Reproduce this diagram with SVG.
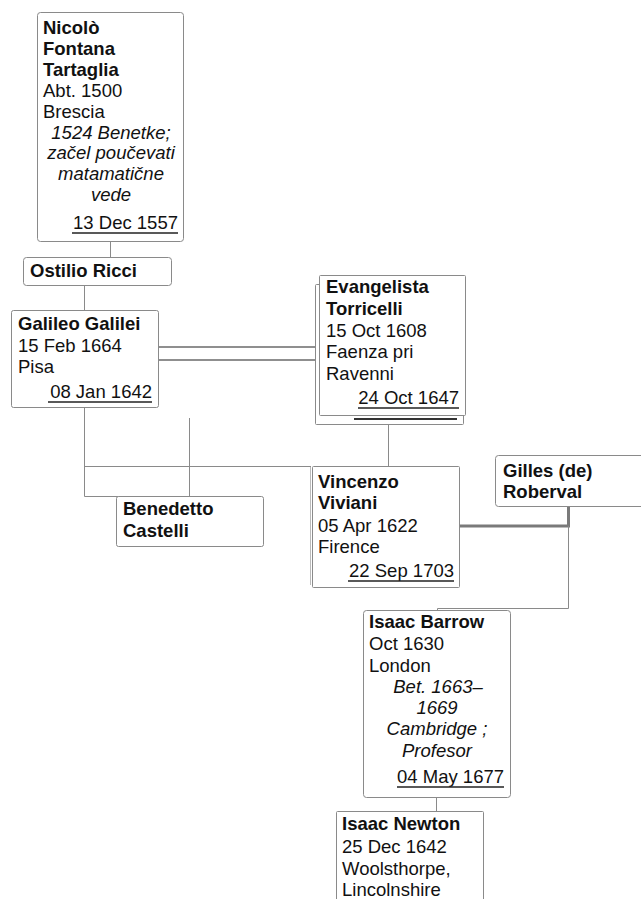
<svg xmlns="http://www.w3.org/2000/svg" width="641" height="899" viewBox="0 0 641 899">
<style>
.box{fill:#fff;stroke:#8a8a8a;stroke-width:1}
.t{font-family:"Liberation Sans",Arial,sans-serif;font-size:18.5px;fill:#111}
.b{font-weight:bold}
.i{font-style:italic;text-anchor:middle}
.d{text-anchor:end}
.ul{stroke:#222;stroke-width:1.5}
.c{fill:none;stroke:#8a8a8a;stroke-width:1}
.dbl{fill:none;stroke:#8f8f8f;stroke-width:2}
.thick{fill:none;stroke:#7a7a7a;stroke-width:3}
</style>
<rect width="641" height="899" fill="#fff"/>
<g id="connectors">
<path class="c" d="M110.5,242 V257"/>
<path class="c" d="M84.5,285 V310"/>
<path class="dbl" d="M158,347 H316"/>
<path class="dbl" d="M158,360 H316"/>
<path class="c" d="M84.5,407 V496.5 H189.5 V418"/>
<path class="c" d="M84.5,466.5 H311"/>
<path class="c" d="M388.5,424 V466.5 H382"/>
<path class="thick" d="M459,526 H568.5 V506"/>
<path class="c" d="M568.5,526 V608.5 H437.5 V611"/>
<path class="c" d="M436.5,797 V811"/>
</g>
<g id="tartaglia">
<rect class="box" x="37.5" y="12.5" width="146" height="229" rx="3"/>
<text class="t b" x="43" y="34">Nicolò</text>
<text class="t b" x="43" y="55">Fontana</text>
<text class="t b" x="43" y="76">Tartaglia</text>
<text class="t" x="43" y="97">Abt. 1500</text>
<text class="t" x="43" y="118">Brescia</text>
<text class="t i" x="111" y="139">1524 Benetke;</text>
<text class="t i" x="111" y="159">začel poučevati</text>
<text class="t i" x="111" y="180">matamatične</text>
<text class="t i" x="111" y="201">vede</text>
<text class="t d" x="178" y="229">13 Dec 1557</text>
<line class="ul" x1="72" y1="233" x2="178" y2="233"/>
</g>
<g id="ricci">
<rect class="box" x="23.5" y="257.5" width="148" height="28" rx="3"/>
<text class="t b" x="30" y="277">Ostilio Ricci</text>
</g>
<g id="galilei">
<rect class="box" x="11.5" y="310.5" width="147" height="97" rx="2"/>
<text class="t b" x="18" y="330">Galileo Galilei</text>
<text class="t" x="18" y="352">15 Feb 1664</text>
<text class="t" x="18" y="373">Pisa</text>
<text class="t d" x="152" y="398">08 Jan 1642</text>
<line class="ul" x1="48" y1="402" x2="152" y2="402"/>
</g>
<g id="torricelli">
<rect class="box" x="315.5" y="284.5" width="148" height="140" rx="1"/>
<line x1="354" y1="419" x2="457" y2="419" stroke="#333" stroke-width="2"/>
<rect class="box" x="319.5" y="275.5" width="146" height="140" rx="1"/>
<text class="t b" x="326" y="293">Evangelista</text>
<text class="t b" x="326" y="315">Torricelli</text>
<text class="t" x="326" y="337">15 Oct 1608</text>
<text class="t" x="326" y="358">Faenza pri</text>
<text class="t" x="326" y="380">Ravenni</text>
<text class="t d" x="459" y="404">24 Oct 1647</text>
<line class="ul" x1="358" y1="408" x2="459" y2="408"/>
</g>
<g id="castelli">
<rect class="box" x="116.5" y="496.5" width="147" height="50" rx="2"/>
<text class="t b" x="123" y="515">Benedetto</text>
<text class="t b" x="123" y="537">Castelli</text>
</g>
<g id="viviani">
<line x1="310.5" y1="467" x2="310.5" y2="585" stroke="#bbb" stroke-width="1"/>
<rect class="box" x="312.5" y="466.5" width="147" height="121" rx="1" stroke="#ccc"/>
<text class="t b" x="318" y="488">Vincenzo</text>
<text class="t b" x="318" y="509">Viviani</text>
<text class="t" x="318" y="532">05 Apr 1622</text>
<text class="t" x="318" y="553">Firence</text>
<text class="t d" x="454" y="577">22 Sep 1703</text>
<line class="ul" x1="348" y1="581" x2="454" y2="581"/>
</g>
<g id="roberval">
<rect class="box" x="495.5" y="455.5" width="152" height="51" rx="3"/>
<text class="t b" x="503" y="477">Gilles (de)</text>
<text class="t b" x="503" y="498">Roberval</text>
</g>
<g id="barrow">
<rect class="box" x="363.5" y="610.5" width="147" height="187" rx="3"/>
<text class="t b" x="369" y="628">Isaac Barrow</text>
<text class="t" x="369" y="650">Oct 1630</text>
<text class="t" x="369" y="672">London</text>
<text class="t i" x="438" y="693">Bet. 1663–</text>
<text class="t i" x="437" y="714">1669</text>
<text class="t i" x="437" y="735">Cambridge ;</text>
<text class="t i" x="437" y="757">Profesor</text>
<text class="t d" x="504" y="783">04 May 1677</text>
<line class="ul" x1="397" y1="787" x2="504" y2="787"/>
</g>
<g id="newton">
<rect class="box" x="336.5" y="811.5" width="147" height="100" rx="1" stroke="#ccc"/>
<text class="t b" x="342" y="830">Isaac Newton</text>
<text class="t" x="342" y="853">25 Dec 1642</text>
<text class="t" x="342" y="875">Woolsthorpe,</text>
<text class="t" x="342" y="896">Lincolnshire</text>
</g>
</svg>
